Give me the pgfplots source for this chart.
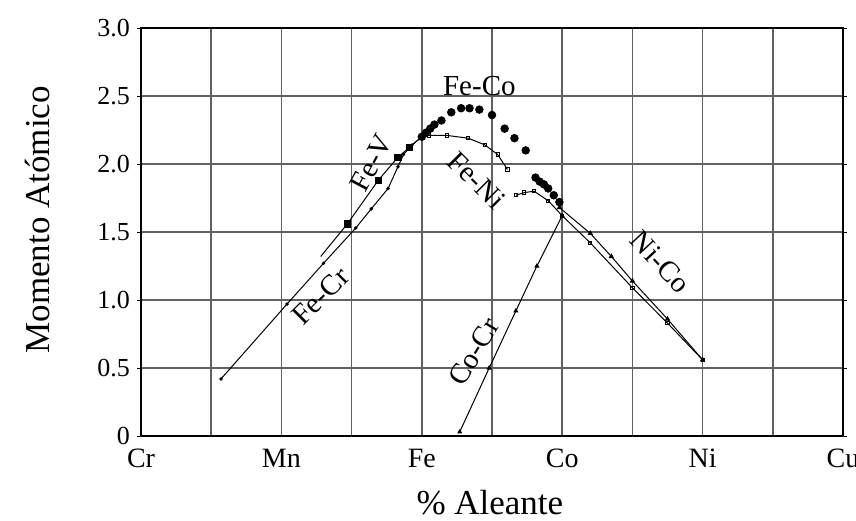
\documentclass[border=0pt]{standalone}
\usepackage{fontspec}
\setmainfont{Liberation Serif}
\usepackage{pgfplots}
\pgfplotsset{compat=1.18}
\begin{document}
\begin{tikzpicture}[x=1pt,y=1pt]
\useasboundingbox (0,0) rectangle (428,260);
\begin{axis}[
  at={(70.5pt,42pt)}, anchor=south west,
  scale only axis, width=351pt, height=204pt,
  xmin=24, xmax=29, ymin=0, ymax=3,
  xtick={24,25,26,27,28,29}, xticklabels={Cr,Mn,Fe,Co,Ni,Cu},
  minor xtick={24.5,25.5,26.5,27.5,28.5},
  ytick={0,0.5,1,1.5,2,2.5,3}, yticklabels={0,0.5,1.0,1.5,2.0,2.5,3.0},
  grid=both,
  major grid style={draw=black!62, line width=0.75pt},
  minor grid style={draw=black!62, line width=0.75pt},
  axis line style={line width=1.2pt},
  tick align=outside,
  major tick length=2pt, minor tick length=0pt,
  xtick style={draw=none},
  ytick style={black, line width=0.5pt},
  xticklabel style={font=\fontsize{14}{16}\selectfont, yshift=-1pt},
  yticklabel style={font=\fontsize{13}{15}\selectfont, xshift=0pt},
  xlabel={\% Aleante}, ylabel={Momento Atómico},
  xlabel style={font=\fontsize{17.5}{20}\selectfont, at={(axis description cs:0.497,-0.164)}, anchor=center},
  ylabel style={font=\fontsize{17.5}{20}\selectfont, at={(axis description cs:-0.148,0.53)}, anchor=center, rotate=0},
  clip=false,
]
% Fe-Cr
\addplot[black, line width=0.5pt, mark=*, mark size=0.6pt] coordinates {
(24.57,0.42) (25.04,0.97) (25.30,1.27) (25.53,1.53) (25.64,1.67) (25.76,1.82) (25.83,1.98) (25.87,2.07) (25.93,2.14) (26.00,2.20)};
% Fe-V
\addplot[black, line width=0.5pt] coordinates {
(25.28,1.32) (25.47,1.56) (25.69,1.88) (25.83,2.05) (25.91,2.12) (26.00,2.20)};
\addplot[only marks, black, mark=square*, mark size=1.6pt] coordinates {
(25.47,1.56) (25.69,1.88) (25.83,2.05) (25.91,2.12)};
% Fe-Co
\addplot[only marks, black, mark=*, mark size=1.9pt] coordinates {
(26.00,2.20) (26.03,2.23) (26.06,2.26) (26.09,2.29) (26.14,2.32) (26.21,2.38) (26.28,2.41) (26.34,2.41) (26.41,2.40) (26.50,2.36) (26.59,2.26) (26.66,2.19) (26.74,2.10)
(26.81,1.90) (26.84,1.87) (26.87,1.85) (26.90,1.82) (26.94,1.77) (26.98,1.72)};
% Fe-Ni
\addplot[black, line width=0.5pt, mark=square, mark size=0.8pt] coordinates {
(26.00,2.20) (26.05,2.21) (26.18,2.21) (26.33,2.19) (26.45,2.14) (26.54,2.07) (26.61,1.96)};
\addplot[black, line width=0.5pt, mark=square, mark size=0.8pt] coordinates {
(26.67,1.77) (26.73,1.79) (26.80,1.80) (26.90,1.73) (27.00,1.62) (27.20,1.42) (27.50,1.09) (27.75,0.83) (28.00,0.56)};
% Ni-Co
\addplot[black, line width=0.5pt, mark=triangle*, mark size=1.1pt] coordinates {
(26.98,1.68) (27.20,1.49) (27.35,1.32) (27.50,1.14) (27.75,0.86) (28.00,0.56)};
% Co-Cr
\addplot[black, line width=0.5pt, mark=triangle*, mark size=1.0pt] coordinates {
(26.27,0.03) (26.48,0.50) (26.67,0.92) (26.82,1.25) (27.00,1.62)};
% labels
\node[font=\fontsize{14.5}{16}\selectfont] at (axis cs:26.41,2.57) {Fe-Co};
\node[font=\fontsize{14.5}{16}\selectfont, rotate=62] at (axis cs:25.64,2.01) {Fe-V};
\node[font=\fontsize{14.5}{16}\selectfont, rotate=-45] at (axis cs:26.39,1.88) {Fe-Ni};
\node[font=\fontsize{14.5}{16}\selectfont, rotate=45] at (axis cs:25.28,1.03) {Fe-Cr};
\node[font=\fontsize{14.5}{16}\selectfont, rotate=-47] at (axis cs:27.70,1.28) {Ni-Co};
\node[font=\fontsize{14.5}{16}\selectfont, rotate=59] at (axis cs:26.37,0.62) {Co-Cr};
\end{axis}
\end{tikzpicture}
\end{document}
